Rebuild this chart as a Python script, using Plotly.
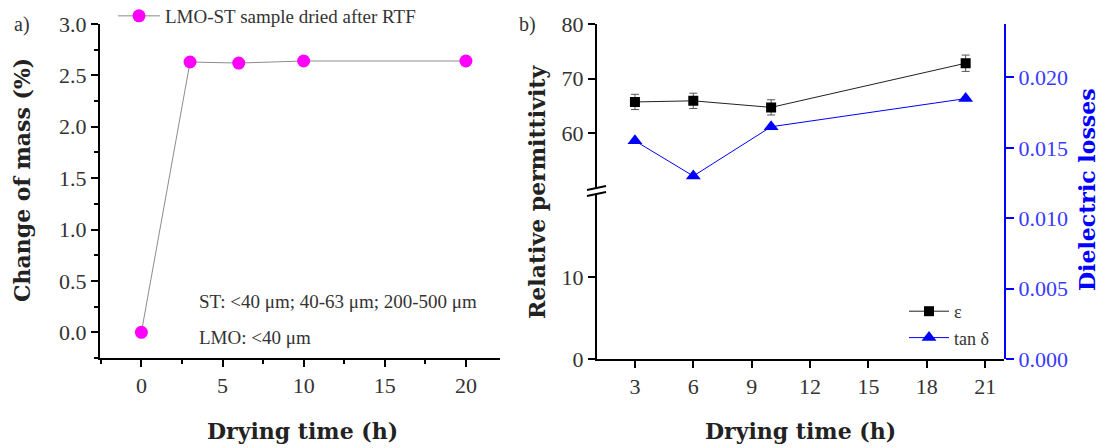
import plotly.graph_objects as go

# ---- data -------------------------------------------------------------
mass_time = [0, 3, 6, 10, 20]                 # drying time (h)
mass_change = [0.0, 2.63, 2.62, 2.64, 2.64]   # change of mass (%)

diel_time = [3, 6, 10, 20]                    # drying time (h)
permittivity = [65.7, 65.9, 64.7, 72.8]       # relative permittivity
permittivity_err = [1.4, 1.4, 1.4, 1.5]
tan_delta = [0.0155, 0.0130, 0.0165, 0.0185]  # dielectric losses

W, H = 1108, 448
REG = "Liberation Serif"
BOLD = "DejaVu Serif"
BLUE = "#0000ff"


def px(x):
    return x / W


def py(y):
    return 1 - y / H


fig = go.Figure()

# ---- panel a: change of mass -----------------------------------------
fig.add_trace(go.Scatter(
    x=mass_time, y=mass_change, mode="lines+markers",
    name="LMO-ST sample dried after RTF",
    line=dict(color="#8c8c8c", width=1),
    marker=dict(color="#ff00ff", size=13),
    xaxis="x", yaxis="y", legend="legend", showlegend=True,
))

# empty trace so the lower segment of the broken axis is rendered
fig.add_trace(go.Scatter(
    x=[None], y=[None], mode="markers", showlegend=False, hoverinfo="skip",
    xaxis="x2", yaxis="y2",
))

# ---- panel b: permittivity (upper segment of broken axis) -------------
fig.add_trace(go.Scatter(
    x=diel_time, y=permittivity, mode="lines+markers", name="ε",
    line=dict(color="#222222", width=1),
    marker=dict(color="black", size=10, symbol="square"),
    error_y=dict(type="data", array=permittivity_err, color="#555555",
                 thickness=1, width=4),
    xaxis="x2", yaxis="y3", legend="legend2", showlegend=True,
))

# ---- panel b: dielectric losses --------------------------------------
fig.add_trace(go.Scatter(
    x=diel_time, y=tan_delta, mode="lines+markers", name="tan δ",
    line=dict(color=BLUE, width=1),
    marker=dict(color=BLUE, size=13, symbol="triangle-up"),
    xaxis="x2", yaxis="y4", legend="legend2", showlegend=True,
))

axis_common = dict(
    showline=True, linecolor="black", linewidth=2,
    ticks="outside", ticklen=7, tickwidth=1.5, tickcolor="black",
    showgrid=False, zeroline=False, automargin=False,
    tickfont=dict(family=REG, size=22, color="#333333"),
)

fig.update_layout(
    width=W, height=H,
    margin=dict(l=0, r=0, t=0, b=0, autoexpand=False),
    paper_bgcolor="white", plot_bgcolor="rgba(0,0,0,0)",
    showlegend=True,
    xaxis=dict(
        **axis_common, domain=[px(100), px(500)], range=[-2.55, 22.1],
        anchor="y", tick0=0, dtick=5,
        minor=dict(dtick=2.5, ticks="outside", ticklen=4, tickwidth=1.5,
                   tickcolor="black"),
    ),
    yaxis=dict(
        **axis_common, domain=[py(358), py(24)], range=[-0.25, 3.0],
        anchor="x", tick0=0, dtick=0.5, tickformat=".1f",
        minor=dict(dtick=0.25, ticks="outside", ticklen=4, tickwidth=1.5,
                   tickcolor="black"),
    ),
    xaxis2=dict(
        **axis_common, domain=[px(597), px(1004)], range=[1.05, 21.97],
        anchor="y2", tickvals=[3, 6, 9, 12, 15, 18, 21],
    ),
    yaxis2=dict(
        **axis_common, domain=[py(359), py(195)], range=[0, 20],
        anchor="x2", tickvals=[0, 10],
    ),
    yaxis3=dict(
        **axis_common, domain=[py(187.5), py(24)], range=[50, 80],
        anchor="x2", tickvals=[60, 70, 80],
    ),
    yaxis4=dict(
        showline=True, linecolor=BLUE, linewidth=2,
        ticks="outside", ticklen=8, tickwidth=1.5, tickcolor=BLUE,
        showgrid=False, zeroline=False, automargin=False,
        tickfont=dict(family=REG, size=22, color="#3a3aff"),
        domain=[py(359), py(24)], range=[0, 0.0238],
        anchor="x2", side="right", tickformat=".3f",
        tickvals=[0, 0.005, 0.010, 0.015, 0.020],
    ),
    legend=dict(
        x=px(113), y=py(-3), xanchor="left", yanchor="top",
        bgcolor="rgba(0,0,0,0)", itemwidth=42,
        font=dict(family=REG, size=19, color="#333333"),
    ),
    legend2=dict(
        x=px(904), y=py(293), xanchor="left", yanchor="top",
        bgcolor="rgba(0,0,0,0)", itemwidth=40, tracegroupgap=0,
        font=dict(family=REG, size=18, color="#333333"),
    ),
)

# axis break marks on the permittivity axis
for y0 in (190, 196):
    fig.add_shape(type="line", xref="paper", yref="paper",
                  x0=px(587), y0=py(y0), x1=px(606), y1=py(y0 - 4),
                  line=dict(color="black", width=2))

# panel labels, notes and axis titles
notes = [
    dict(text="a)", x=px(22), y=py(24), font=dict(family=REG, size=20, color="#333333")),
    dict(text="b)", x=px(527), y=py(24), font=dict(family=REG, size=20, color="#333333")),
    dict(text="ST: <40 μm; 40-63 μm; 200-500 μm", x=px(197), y=py(301), xanchor="left",
         font=dict(family=REG, size=19, color="#333333")),
    dict(text="LMO: <40 μm", x=px(197), y=py(337), xanchor="left",
         font=dict(family=REG, size=19, color="#333333")),
    dict(text="<b>Drying time (h)</b>", x=px(302), y=py(431),
         font=dict(family=BOLD, size=22, color="#222222")),
    dict(text="<b>Drying time (h)</b>", x=px(800), y=py(431),
         font=dict(family=BOLD, size=22, color="#222222")),
    dict(text="<b>Change of mass (%)</b>", x=px(22), y=py(180), textangle=-90,
         font=dict(family=BOLD, size=22, color="#222222")),
    dict(text="<b>Relative permittivity</b>", x=px(537), y=py(192), textangle=-90,
         font=dict(family=BOLD, size=22, color="#222222")),
    dict(text="<b>Dielectric losses</b>", x=px(1087), y=py(190), textangle=-90,
         font=dict(family=BOLD, size=22, color=BLUE)),
]
for n in notes:
    n.setdefault("xanchor", "center")
    fig.add_annotation(xref="paper", yref="paper", showarrow=False,
                       yanchor="middle", **n)

fig.write_html("out.html")
